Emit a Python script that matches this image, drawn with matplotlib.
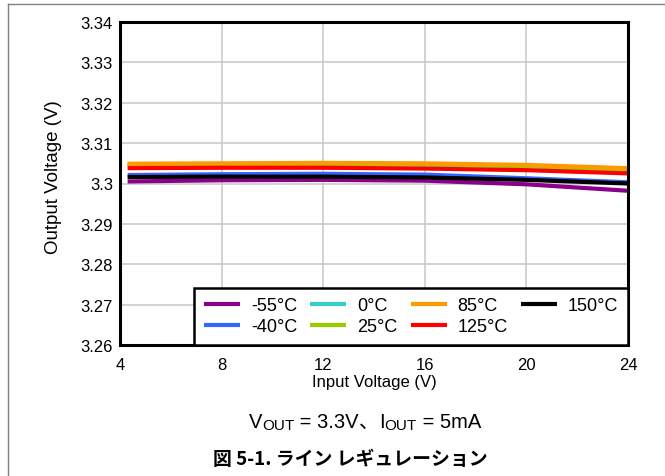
import matplotlib
matplotlib.use("Agg")
import matplotlib.pyplot as plt
from matplotlib.lines import Line2D

plt.rcParams['font.family'] = ['Liberation Sans', 'Noto Sans CJK JP', 'DejaVu Sans']

x_vals = [4.3, 8, 12, 16, 20, 24]
series_labels = ['-55°C', '-40°C', '0°C', '25°C', '85°C', '125°C', '150°C']
series_colors = ['#8B008B', '#3366FF', '#33CCCC', '#99CC00', '#FF9900', '#FF0000', '#000000']
v_m55 = [3.3005, 3.3008, 3.3009, 3.3007, 3.2998, 3.2982]
v_m40 = [3.3021, 3.3023, 3.3024, 3.3022, 3.3013, 3.3003]
v_0   = [3.3046, 3.3047, 3.3048, 3.3047, 3.3043, 3.3034]
v_25  = [3.3047, 3.3048, 3.3049, 3.3048, 3.3043, 3.3033]
v_85  = [3.3049, 3.3050, 3.3051, 3.3050, 3.3046, 3.3038]
v_125 = [3.3038, 3.3039, 3.3039, 3.3037, 3.3033, 3.3025]
v_150 = [3.3016, 3.3017, 3.3017, 3.3015, 3.3009, 3.3000]
series_values = [v_m55, v_m40, v_0, v_25, v_85, v_125, v_150]

x_ticks = [4, 8, 12, 16, 20, 24]
y_ticks = [3.26, 3.27, 3.28, 3.29, 3.30, 3.31, 3.32, 3.33, 3.34]
y_tick_labels = ['3.26', '3.27', '3.28', '3.29', '3.3', '3.31', '3.32', '3.33', '3.34']

W, H = 665, 477
fig = plt.figure(figsize=(W / 100, H / 100), dpi=100)
ax = fig.add_axes([120 / W, 1 - 346 / H, (628 - 120) / W, (346 - 23) / H])

for vals, lab, col in zip(series_values, series_labels, series_colors):
    ax.plot(x_vals, vals, color=col, lw=3, label=lab, solid_capstyle='butt')

ax.set_xlim(4, 24)
ax.set_ylim(3.26, 3.34)
ax.set_xticks(x_ticks)
ax.set_yticks(y_ticks)
ax.set_yticklabels(y_tick_labels)
ax.grid(True, color='#c8c8c8', lw=1.1)
ax.set_axisbelow(True)
ax.tick_params(length=0, labelsize=12)
ax.tick_params(axis='x', pad=9)
ax.tick_params(axis='y', pad=5)
for s in ax.spines.values():
    s.set_linewidth(2.2)
    s.set_color('black')
ax.set_xlabel('Input Voltage (V)', fontsize=12, labelpad=1)
ax.set_ylabel('Output Voltage (V)', fontsize=13.5)
ax.yaxis.set_label_coords(-0.114, 0.524)

leg = ax.legend(loc='lower right', ncol=4, fontsize=13, frameon=True, fancybox=False,
                edgecolor='black', framealpha=1, handlelength=2.0, handletextpad=0.6,
                columnspacing=0.72, labelspacing=0.2, borderpad=0.55,
                borderaxespad=0)
leg.get_frame().set_linewidth(1.8)
for h in leg.get_lines():
    h.set_linewidth(3)

# figure border lines (top and left)
fig.add_artist(Line2D([8 / W, 1], [1 - 5 / H, 1 - 5 / H], color='#808080', lw=1))
fig.add_artist(Line2D([8 / W, 8 / W], [1 - 5 / H, 0], color='#808080', lw=1))

# condition text with subscripts
fig.canvas.draw()
renderer = fig.canvas.get_renderer()
pieces = [('V', 14.5, 0), ('OUT', 11, -2), (' = 3.3V', 14.5, 0), ('、', 14.5, 0),
          ('I', 14.5, 0), ('OUT', 11, -2), (' = 5mA', 14.5, 0)]
texts = []
widths = []
for txt, fs, dy in pieces:
    t = fig.text(0, 0, txt, fontsize=fs, va='baseline')
    bb = t.get_window_extent(renderer)
    widths.append(bb.width)
    texts.append((t, dy))
total = sum(widths)
xc = 365
x0 = xc - total / 2
base_y = H - 428
for (t, dy), w in zip(texts, widths):
    t.set_position((x0 / W, (base_y + dy) / H))
    x0 += w

fig.text(350.5 / W, 1 - 460 / H, '図 5-1. ライン レギュレーション', fontsize=13.6,
         fontweight='bold', ha='center', va='center',
         family=['Noto Sans CJK JP', 'Liberation Sans'])

fig.savefig('out.png', dpi=100)
